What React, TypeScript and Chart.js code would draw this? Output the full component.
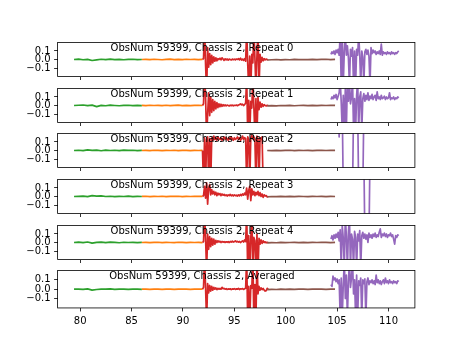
import React, { useEffect, useRef } from 'react';
import { Chart, registerables } from 'chart.js';

Chart.register(...registerables);

// ---------- data ----------
const panelTitles = [
  'ObsNum 59399, Chassis 2, Repeat 0',
  'ObsNum 59399, Chassis 2, Repeat 1',
  'ObsNum 59399, Chassis 2, Repeat 2',
  'ObsNum 59399, Chassis 2, Repeat 3',
  'ObsNum 59399, Chassis 2, Repeat 4',
  'ObsNum 59399, Chassis 2, Averaged',
];
const xTicks = [80, 85, 90, 95, 100, 105, 110];
const xTickLabels = ['80', '85', '90', '95', '100', '105', '110'];
const yTicks = [-0.1, 0.0, 0.1];
const yTickLabels = ['\u22120.1', '0.0', '0.1'];
const segColors = ['#2ca02c', '#ff7f0e', '#d62728', '#8c564b', '#9467bd'];
const segStart = [79.4, 86.0, 91.9, 98.2, 104.4];
const segEnd = [86.0, 91.9, 98.3, 104.8, 111.0];

// Repeat 0
const p0Green = [0.0, 0.004, -0.003, 0.002, -0.012, -0.004, 0.003, -0.002, 0.004, -0.001, 0.002, -0.003, 0.001, 0.003, -0.002, 0.0];
const p0Orange = [0.0, 0.002, -0.002, 0.003, 0.0, -0.003, 0.002, 0.004, -0.001, 0.002, -0.002, 0.003, 0.0, 0.002, -0.001, 0.001];
const p0Red = [0.0, 0.01, 0.4, -0.06, -0.4, 0.14, -0.09, 0.07, -0.06, 0.05,
  -0.04, 0.03, -0.02, 0.02, -0.015, 0.01, 0.0, 0.015, -0.005, 0.02,
  0.005, -0.01, 0.008, -0.004, 0.006, -0.008, 0.004, 0.0, -0.006, 0.005,
  -0.003, 0.004, -0.005, 0.006, 0.0, 0.01, -0.004, 0.015, -0.006, 0.005,
  -0.01, 0.01, -0.02, 0.35, -0.05, -0.35, 0.04, -0.35, 0.06, -0.04,
  0.35, 0.02, -0.35, 0.05, 0.35, -0.35, 0.06, -0.03, 0.025, -0.015,
  0.01, -0.005, 0.005, -0.003, 0.0];
const p0Brown = [-0.006, -0.003, 0.0, -0.004, -0.001, -0.003, 0.001, -0.002, 0.0, -0.002, 0.002, -0.001, 0.001, 0.003, -0.001, 0.002];
const p0Purple = [0.06, 0.09, 0.07, 0.1, 0.06, 0.11, 0.08, 0.12, 0.05, 0.3,
  -0.3, 0.25, -0.3, 0.1, 0.3, 0.05, 0.16, 0.02, -0.3, 0.12,
  0.04, 0.14, -0.3, 0.1, -0.3, 0.12, 0.05, 0.3, 0.06, -0.3,
  0.1, 0.03, -0.3, 0.09, 0.12, 0.06, 0.11, 0.04, -0.3, 0.14,
  0.07, 0.11, 0.08, 0.1, 0.06, 0.09, 0.07, 0.1, 0.06, 0.18,
  0.05, 0.09, 0.07, 0.08, 0.06, 0.09, 0.07, 0.08, 0.06, 0.09,
  0.07, 0.08, 0.06, 0.08, 0.07, 0.09, 0.1];

// Repeat 1
const p1Green = [0.0, 0.003, 0.006, -0.002, 0.004, -0.013, 0.002, -0.003, 0.004, 0.0, -0.003, 0.002, 0.003, -0.002, 0.001, -0.001];
const p1Orange = [0.001, -0.002, 0.003, 0.0, 0.002, -0.002, 0.003, -0.001, 0.002, 0.004, -0.001, 0.002, -0.002, 0.001, 0.003, 0.0];
const p1Red = [0.0, 0.02, 0.4, 0.1, -0.4, -0.1, 0.15, -0.12, 0.1, -0.08,
  0.07, -0.06, 0.05, -0.04, 0.035, -0.025, 0.02, -0.015, 0.015, -0.01,
  0.01, -0.005, 0.006, -0.004, 0.005, 0.0, -0.006, 0.004, -0.002, 0.005,
  -0.004, 0.003, 0.0, 0.005, -0.003, 0.006, 0.01, 0.02, 0.008, 0.015,
  0.0, 0.01, 0.03, 0.35, -0.35, 0.06, -0.35, 0.05, -0.03, 0.35,
  -0.02, -0.35, 0.08, -0.35, 0.1, -0.05, 0.04, -0.02, 0.02, -0.01,
  0.01, 0.0, -0.005, 0.003, 0.0];
const p1Brown = [-0.005, -0.002, -0.004, 0.0, -0.002, 0.001, -0.003, 0.0, 0.002, -0.001, 0.001, -0.002, 0.002, 0.0, 0.003, 0.001];
const p1Purple = [0.07, 0.1, 0.08, 0.12, 0.09, 0.13, 0.07, 0.11, 0.15, 0.3,
  0.04, -0.3, 0.12, -0.3, 0.2, -0.3, 0.3, 0.05, 0.3, 0.02,
  0.1, 0.3, -0.3, 0.08, -0.3, 0.12, 0.3, -0.3, 0.1, 0.16,
  -0.3, 0.08, 0.14, 0.05, 0.12, 0.07, 0.15, 0.06, 0.11, 0.08,
  0.13, 0.07, 0.1, 0.12, 0.06, 0.16, 0.08, 0.1, 0.07, 0.12,
  0.08, 0.09, 0.11, 0.07, 0.1, 0.08, 0.09, 0.15, 0.07, 0.09,
  0.08, 0.1, 0.07, 0.09, 0.08, 0.1, 0.09];

// Repeat 2
const p2Green = [0.0, 0.003, -0.002, 0.008, 0.002, 0.005, -0.003, 0.004, 0.0, 0.003, -0.002, 0.004, 0.001, 0.003, -0.001, 0.002];
const p2Orange = [0.0, 0.002, -0.001, 0.003, 0.001, -0.002, 0.002, 0.0, 0.003, -0.002, 0.002, 0.001, -0.001, 0.002, 0.0, 0.001];
const p2Red = [0.0, -0.4, 0.15, -0.4, 0.13, 0.16, -0.4, 0.14, -0.4, 0.15,
  0.12, 0.17, 0.13, 0.15, 0.12, 0.16, 0.14, 0.13, 0.15, 0.12,
  0.14, 0.16, 0.13, 0.15, 0.14, 0.12, 0.15, 0.13, 0.16, 0.14,
  0.12, 0.15, 0.13, 0.14, 0.16, 0.13, 0.15, 0.12, 0.14, 0.17,
  0.13, 0.15, 0.14, -0.4, 0.16, 0.13, -0.4, 0.15, 0.18, 0.14,
  0.16, 0.13, -0.4, 0.17, 0.14, -0.4, 0.15, 0.13, 0.16, -0.4,
  -0.4, -0.4, -0.4, -0.4, -0.4];
const p2Brown = [0.0, -0.002, 0.002, -0.001, 0.001, 0.003, -0.001, 0.002, 0.0, 0.002, -0.002, 0.001, 0.003, 0.0, 0.002, 0.001];
const p2Purple = [0.5, 0.5, 0.5, 0.5, 0.5, 0.5, 0.5, 0.5, 0.16, 0.5,
  0.5, 0.5, -0.5, -0.5, -0.5, -0.5, -0.5, -0.5, -0.5, -0.5,
  -0.5, -0.5, 0.5, 0.5, 0.5, 0.5, 0.5, -0.5, -0.5, -0.5,
  -0.5, -0.5, 0.5, 0.5, 0.5, 0.5, 0.5, 0.5, 0.5, 0.5,
  0.5, 0.5, 0.5, 0.5, 0.5, 0.5, 0.5, 0.5, 0.5, 0.5,
  0.5, 0.5, 0.5, 0.5, 0.5, 0.5, 0.5, 0.5, 0.5, 0.5,
  0.5, 0.5, 0.5, 0.5, 0.5, 0.5, 0.5];

// Repeat 3
const p3Green = [0.0, 0.002, 0.005, -0.002, 0.01, 0.004, 0.007, 0.0, 0.003, -0.002, 0.002, 0.0, 0.004, -0.002, 0.002, 0.0];
const p3Orange = [0.001, 0.003, -0.001, 0.002, 0.0, 0.003, -0.002, 0.002, 0.001, 0.003, -0.001, 0.002, 0.0, 0.003, 0.001, 0.002];
const p3Red = [0.0, 0.01, 0.12, -0.02, 0.16, -0.09, 0.1, 0.14, 0.02, 0.08,
  0.03, 0.06, 0.02, 0.05, 0.01, 0.04, 0.02, 0.035, 0.01, 0.03,
  0.015, 0.025, 0.01, 0.02, 0.005, 0.02, 0.01, 0.025, 0.008, 0.018,
  0.006, 0.02, 0.01, 0.015, 0.005, 0.02, 0.008, 0.025, 0.01, 0.03,
  0.015, 0.04, 0.02, 0.1, -0.03, 0.07, 0.12, -0.05, 0.09, 0.02,
  0.06, 0.01, 0.05, 0.02, 0.06, 0.01, 0.045, 0.0, 0.03, -0.01,
  0.02, 0.005, 0.01, -0.005, 0.0];
const p3Brown = [-0.003, 0.0, -0.002, 0.002, -0.001, 0.001, -0.002, 0.002, 0.0, -0.001, 0.002, 0.0, 0.001, -0.001, 0.002, 0.0];
const p3Purple = [0.5, 0.5, 0.5, 0.5, 0.5, 0.5, 0.5, 0.5, 0.5, 0.5,
  0.5, 0.5, 0.5, 0.5, 0.5, 0.5, 0.5, 0.5, 0.5, 0.5,
  0.5, 0.5, 0.5, 0.5, 0.5, 0.5, 0.5, 0.5, 0.5, 0.5,
  0.5, 0.5, 0.5, -0.5, -0.5, -0.5, -0.5, -0.5, 0.5, 0.5,
  0.5, 0.5, 0.5, 0.5, 0.5, 0.5, 0.5, 0.5, 0.5, 0.5,
  0.5, 0.5, 0.5, 0.5, 0.5, 0.5, 0.5, 0.5, 0.5, 0.5,
  0.5, 0.5, 0.5, 0.5, 0.5, 0.5, 0.5];

// Repeat 4
const p4Green = [0.0, 0.004, -0.002, 0.006, -0.008, 0.002, 0.005, -0.002, 0.004, 0.001, -0.003, 0.003, 0.0, 0.002, -0.002, 0.001];
const p4Orange = [0.0, 0.002, -0.002, 0.001, 0.003, -0.001, 0.002, 0.0, -0.002, 0.003, 0.001, -0.001, 0.002, 0.0, 0.002, -0.001];
const p4Red = [0.0, 0.01, 0.35, 0.05, -0.35, 0.1, -0.08, 0.07, -0.05, 0.05,
  -0.03, 0.04, -0.02, 0.025, 0.0, 0.02, 0.005, 0.015, 0.0, 0.012,
  0.004, 0.01, 0.0, 0.008, 0.002, 0.01, 0.0, 0.012, 0.004, 0.015,
  0.005, 0.01, 0.02, 0.006, 0.014, 0.004, 0.012, 0.0, 0.01, 0.02,
  0.005, 0.03, 0.01, 0.35, -0.35, 0.08, -0.35, 0.04, 0.35, -0.35,
  0.06, 0.02, -0.35, 0.1, -0.35, 0.05, -0.02, 0.03, -0.01, 0.02,
  0.0, 0.008, -0.004, 0.003, 0.0];
const p4Brown = [-0.004, -0.001, -0.003, 0.001, -0.002, 0.0, 0.002, -0.001, 0.001, -0.002, 0.002, 0.0, 0.001, 0.002, -0.001, 0.001];
const p4Purple = [0.04, 0.08, 0.03, 0.09, 0.05, 0.1, 0.06, 0.12, 0.02, 0.15,
  -0.3, 0.2, 0.05, -0.3, 0.3, 0.08, -0.3, 0.12, 0.3, -0.3,
  0.1, 0.04, -0.3, 0.13, 0.06, -0.3, 0.1, 0.02, 0.14, -0.3,
  0.08, 0.12, 0.05, 0.1, 0.04, 0.09, 0.0, 0.11, 0.06, 0.09,
  0.05, 0.1, 0.07, 0.11, 0.06, 0.09, 0.07, 0.12, 0.16, 0.06,
  0.1, 0.08, 0.11, 0.07, 0.1, 0.06, 0.09, 0.08, 0.11, 0.07,
  0.09, 0.04, -0.02, 0.08, 0.06, 0.09, 0.08];

// Averaged
const p5Green = [0.0, 0.002, -0.002, 0.003, -0.01, -0.003, 0.002, 0.0, 0.003, -0.002, 0.001, 0.002, -0.002, 0.001, 0.0, -0.001];
const p5Orange = [0.0, 0.001, -0.001, 0.002, 0.0, -0.002, 0.002, 0.001, -0.001, 0.002, 0.0, 0.001, -0.001, 0.002, 0.0, 0.001];
const p5Red = [0.0, 0.02, 0.35, 0.02, -0.35, 0.06, -0.04, 0.04, -0.02, 0.03,
  -0.01, 0.02, 0.0, 0.015, -0.005, 0.01, 0.0, 0.008, 0.0, 0.02,
  0.005, 0.01, 0.0, 0.006, -0.003, 0.004, 0.0, 0.005, -0.004, 0.003,
  0.001, 0.006, -0.002, 0.004, 0.0, 0.008, -0.003, 0.005, 0.002, 0.007,
  -0.002, 0.004, 0.01, 0.35, -0.35, 0.03, -0.35, 0.04, 0.01, 0.35,
  -0.35, 0.05, -0.35, 0.35, -0.05, 0.03, -0.01, 0.015, -0.005, 0.008,
  -0.01, -0.02, -0.015, 0.01, 0.0];
const p5Brown = [-0.004, -0.002, -0.003, 0.0, -0.002, 0.001, -0.001, 0.0, 0.001, -0.001, 0.001, 0.0, 0.002, -0.001, 0.001, 0.0];
const p5Purple = [0.05, 0.03, 0.14, 0.1, 0.12, 0.08, 0.11, 0.06, 0.1, -0.3,
  0.12, -0.3, 0.05, 0.3, -0.1, 0.15, -0.3, 0.08, 0.3, 0.02,
  0.12, 0.3, -0.05, 0.1, -0.3, 0.15, -0.3, 0.09, 0.04, 0.12,
  -0.3, 0.1, 0.06, 0.11, -0.3, 0.08, 0.12, 0.05, 0.09, 0.07,
  0.1, 0.06, 0.09, 0.05, 0.15, 0.07, 0.1, 0.06, 0.09, 0.05,
  0.08, 0.1, 0.06, 0.12, 0.07, 0.09, 0.06, 0.1, 0.07, 0.08,
  0.06, 0.09, 0.07, 0.08, 0.06, 0.09, 0.08];

const panelSeries = [
  [p0Green, p0Orange, p0Red, p0Brown, p0Purple],
  [p1Green, p1Orange, p1Red, p1Brown, p1Purple],
  [p2Green, p2Orange, p2Red, p2Brown, p2Purple],
  [p3Green, p3Orange, p3Red, p3Brown, p3Purple],
  [p4Green, p4Orange, p4Red, p4Brown, p4Purple],
  [p5Green, p5Orange, p5Red, p5Brown, p5Purple],
];

// ---------- layout ----------
const FIG_W = 461;
const FIG_H = 346;
const AX_LEFT = 57.6;
const AX_RIGHT = 414.9;
const AX_TOP = 41.52;
const AX_BOTTOM = 307.94;
const N_PANELS = 6;
const PANEL_H = (AX_BOTTOM - AX_TOP) / (N_PANELS + (N_PANELS - 1) * 0.2);
const PANEL_GAP = PANEL_H * 0.2;
const X_MIN = 77.8;
const X_MAX = 112.57;
const Y_MIN = -0.2;
const Y_MAX = 0.2;
const TITLE_X_FRAC = 0.404;
const FONT = 'DejaVu Sans';
const LINE_W = 1.7;

Chart.defaults.font.family = FONT;
Chart.defaults.font.size = 10;
Chart.defaults.color = '#000';

function Panel({ index }: { index: number }) {
  const ref = useRef<HTMLCanvasElement>(null);
  const last = index === N_PANELS - 1;
  const top = AX_TOP + index * (PANEL_H + PANEL_GAP);
  const canvasTop = Math.floor(top - 8);
  const padTop = top - canvasTop;
  const canvasH = Math.ceil(padTop + PANEL_H + (last ? 26 : 6));
  const xAxisH = canvasH - padTop - PANEL_H;

  useEffect(() => {
    const canvas = ref.current;
    if (!canvas) return;
    const series = panelSeries[index];
    const datasets = series.map((vals, s) => ({
      data: vals.map((v, i) => ({
        x: segStart[s] + ((segEnd[s] - segStart[s]) * i) / (vals.length - 1),
        y: v,
      })),
      borderColor: segColors[s],
      backgroundColor: segColors[s],
      borderWidth: LINE_W,
      pointRadius: 0,
      tension: 0,
      fill: false,
      clip: 0,
      order: 5 - s,
      borderJoinStyle: 'round' as const,
      borderCapStyle: 'butt' as const,
    }));

    const framePlugin = {
      id: 'frameAndTitle',
      afterDatasetsDraw(chart: any) {
        const { ctx, chartArea: a } = chart;
        ctx.save();
        ctx.strokeStyle = '#000';
        ctx.lineWidth = 0.8;
        ctx.strokeRect(a.left, a.top, a.right - a.left, a.bottom - a.top);
        ctx.fillStyle = '#000';
        ctx.font = `10px "${FONT}"`;
        ctx.textAlign = 'center';
        ctx.textBaseline = 'alphabetic';
        ctx.fillText(
          panelTitles[index],
          a.left + TITLE_X_FRAC * (a.right - a.left),
          a.top + 8.6
        );
        ctx.restore();
      },
    };

    const chart = new Chart(canvas, {
      type: 'line',
      data: { datasets },
      options: {
        animation: false,
        responsive: false,
        devicePixelRatio: 1,
        events: [],
        layout: { padding: { left: 0, right: FIG_W - AX_RIGHT, top: padTop, bottom: 0 } },
        plugins: {
          legend: { display: false },
          tooltip: { enabled: false },
          title: { display: false },
        },
        scales: {
          x: {
            type: 'linear',
            position: 'bottom',
            min: X_MIN,
            max: X_MAX,
            afterFit: (s: any) => {
              s.height = xAxisH;
            },
            afterBuildTicks: (s: any) => {
              s.ticks = xTicks.map((v) => ({ value: v }));
            },
            border: { display: false },
            grid: {
              drawOnChartArea: false,
              drawTicks: true,
              tickLength: 3.5,
              color: '#000',
              lineWidth: 0.8,
            },
            ticks: {
              display: last,
              padding: 4,
              maxRotation: 0,
              autoSkip: false,
              color: '#000',
              font: { family: FONT, size: 10 },
              callback: (_v: any, i: number) => xTickLabels[i],
            },
          },
          y: {
            type: 'linear',
            min: Y_MIN,
            max: Y_MAX,
            afterFit: (s: any) => {
              s.width = AX_LEFT;
            },
            afterBuildTicks: (s: any) => {
              s.ticks = yTicks.map((v) => ({ value: v }));
            },
            border: { display: false },
            grid: {
              drawOnChartArea: false,
              drawTicks: true,
              tickLength: 3.5,
              color: '#000',
              lineWidth: 0.8,
            },
            ticks: {
              padding: 3.5,
              autoSkip: false,
              color: '#000',
              font: { family: FONT, size: 10 },
              callback: (_v: any, i: number) => yTickLabels[i],
            },
          },
        },
      },
      plugins: [framePlugin],
    } as any);
    return () => chart.destroy();
  }, [index]);

  return (
    <canvas
      ref={ref}
      width={FIG_W}
      height={canvasH}
      style={{
        position: 'absolute',
        left: 0,
        top: canvasTop,
        width: FIG_W,
        height: canvasH,
        display: 'block',
      }}
    />
  );
}

export default function App() {
  return (
    <div
      style={{
        position: 'absolute',
        left: 0,
        top: 0,
        width: FIG_W,
        height: FIG_H,
        background: '#fff',
        overflow: 'hidden',
      }}
    >
      {panelTitles.map((_, i) => (
        <Panel key={i} index={i} />
      ))}
    </div>
  );
}
